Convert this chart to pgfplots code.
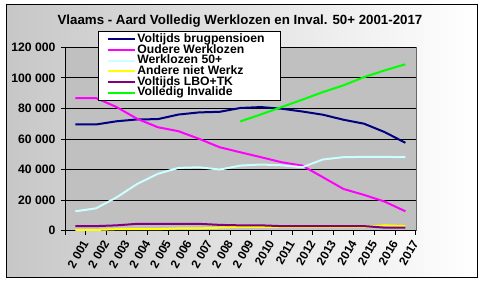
\documentclass[border=0pt]{standalone}
\usepackage{fontspec}
\setmainfont{Liberation Sans}
\usepackage{pgfplots}
\pgfplotsset{compat=1.18}
\definecolor{cnavy}{RGB}{0,0,128}
\definecolor{cmag}{RGB}{255,0,255}
\definecolor{ccyan}{RGB}{204,255,255}
\definecolor{cyel}{RGB}{255,255,0}
\definecolor{cpur}{RGB}{128,0,128}
\definecolor{cgreen}{RGB}{0,255,0}
\definecolor{cplot}{RGB}{192,192,192}
\begin{document}
\begin{tikzpicture}
\path[use as bounding box] (0pt,0pt) rectangle (485pt,284pt);
\shade[left color=black!22, right color=white] (6pt,6pt) rectangle (477pt,279pt);
\draw[black, line width=1pt] (6pt,6pt) rectangle (477pt,279pt);
\node[font=\fontsize{13.3}{14}\selectfont\bfseries] at (240pt,262.5pt) {Vlaams - Aard Volledig Werklozen en Inval. 50+ 2001-2017};
\begin{axis}[
  at={(65pt,53.3pt)}, anchor=south west,
  scale only axis, width=350.7pt, height=183.4pt,
  xmin=-0.5, xmax=16.5, ymin=0, ymax=120000,
  scaled y ticks=false,
  axis lines=left, axis line style={-, black, line width=0.8pt},
  axis background/.style={fill=cplot, draw=gray!80!black},
  tick align=outside, major tick length=4pt,
  tick style={black, line width=0.8pt},
  ytick={0,20000,40000,60000,80000,100000,120000},
  yticklabels={0,20 000,40 000,60 000,80 000,100 000,120 000},
  yticklabel style={font=\fontsize{12.2}{13}\selectfont\bfseries, xshift=-2pt},
  ymajorgrids, grid style={black, line width=0.8pt},
  xtick={0,...,16},
  xticklabels={2 001,2 002,2 003,2 004,2 005,2 006,2 007,2 008,2 009,2010,2011,2012,2013,2014,2015,2016,2017},
  major x tick style={draw=none},
  xticklabel style={font=\fontsize{12}{13}\selectfont\bfseries, rotate=60, anchor=east, xshift=3pt, yshift=-12pt},
  extra x ticks={-0.5,0.5,1.5,2.5,3.5,4.5,5.5,6.5,7.5,8.5,9.5,10.5,11.5,12.5,13.5,14.5,15.5,16.5},
  extra x tick labels={},
  extra x tick style={grid=none, major x tick style={draw=black}, tick style={black, line width=0.8pt}},
  legend cell align=left,
  legend image code/.code={\draw[#1] (0pt,0pt) -- (27pt,0pt);},
  legend style={at={(axis description cs:0.094,1.089)}, anchor=north west,
    draw=black, fill=white, line width=0.8pt,
    font=\fontsize{12.2}{12}\selectfont\bfseries,
    inner xsep=9pt, inner ysep=2.5pt, row sep=0pt,
    nodes={inner xsep=1pt, inner ysep=0pt, text height=8.5pt, text depth=2.2pt}},
  every axis plot/.append style={line width=2pt, no marks, line join=round},
]
\addplot[cnavy] coordinates {(0,69500)(1,69500)(2,71600)(3,72800)(4,73000)(5,76000)(6,77400)(7,77800)(8,80300)(9,80900)(10,79800)(11,78000)(12,75900)(13,72600)(14,70000)(15,64500)(16,57500)};
\addlegendentry{Voltijds brugpensioen\hspace*{6pt}}
\addplot[cmag] coordinates {(0,86800)(1,86800)(2,80900)(3,73200)(4,67700)(5,65100)(6,60100)(7,54600)(8,51300)(9,48100)(10,44800)(11,42600)(12,35000)(13,27300)(14,23400)(15,19000)(16,12700)};
\addlegendentry{Oudere Werklozen}
\addplot[ccyan] coordinates {(0,12700)(1,14600)(2,21800)(3,30600)(4,37200)(5,41100)(6,41500)(7,40000)(8,42600)(9,43300)(10,42800)(11,41500)(12,46600)(13,48100)(14,48300)(15,48300)(16,48100)};
\addlegendentry{Werklozen 50+}
\addplot[cyel] coordinates {(0,500)(1,500)(2,1000)(3,1000)(4,1000)(5,1500)(6,1500)(7,2000)(8,2500)(9,2500)(10,2500)(11,2500)(12,2500)(13,2500)(14,2500)(15,3500)(16,3000)};
\addlegendentry{Andere niet Werkz}
\addplot[cpur] coordinates {(0,3000)(1,3000)(2,3500)(3,4500)(4,4500)(5,4500)(6,4500)(7,3800)(8,3500)(9,3500)(10,3000)(11,3000)(12,3000)(13,3000)(14,3000)(15,2000)(16,2000)};
\addlegendentry{Voltijds LBO+TK}
\addplot[cgreen] coordinates {(8,71500)(9,76100)(10,80900)(11,85700)(12,90700)(13,95100)(14,100500)(15,104900)(16,108900)};
\addlegendentry{Volledig Invalide}
\end{axis}
\end{tikzpicture}
\end{document}
